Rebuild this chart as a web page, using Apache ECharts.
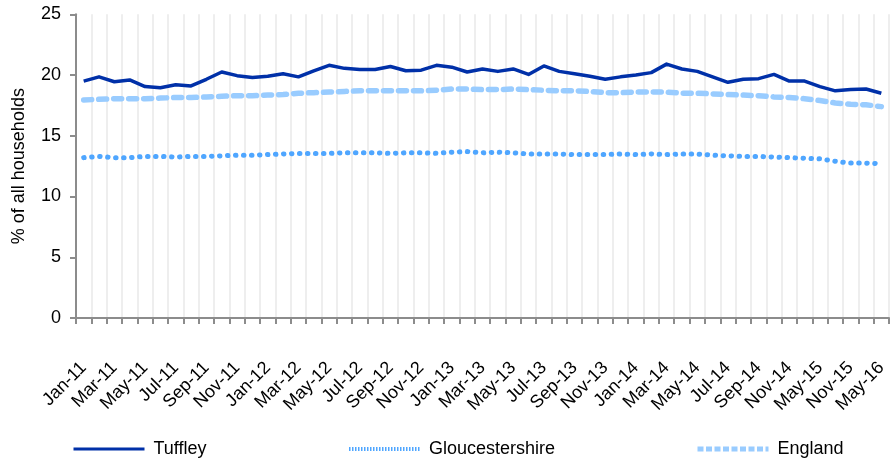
<!DOCTYPE html>
<html>
<head>
<meta charset="utf-8">
<script src="https://cdn.jsdelivr.net/npm/echarts@6/dist/echarts.min.js"></script>
<style>
html,body{margin:0;padding:0;background:#fff;}
#chart{width:892px;height:461px;}
</style>
</head>
<body>
<div id="chart"></div>
<script>
var categories = [
  'Jan-11','Feb-11','Mar-11','Apr-11','May-11','Jun-11','Jul-11','Aug-11','Sep-11','Oct-11','Nov-11','Dec-11',
  'Jan-12','Feb-12','Mar-12','Apr-12','May-12','Jun-12','Jul-12','Aug-12','Sep-12','Oct-12','Nov-12','Dec-12',
  'Jan-13','Feb-13','Mar-13','Apr-13','May-13','Jun-13','Jul-13','Aug-13','Sep-13','Oct-13','Nov-13','Dec-13',
  'Jan-14','Feb-14','Mar-14','Apr-14','May-14','Jun-14','Jul-14','Aug-14','Sep-14','Oct-14','Nov-14',
  'Feb-15','May-15','Aug-15','Nov-15','Feb-16','May-16'
];
var tuffley = [
  19.5,19.85,19.45,19.6,19.05,18.95,19.2,19.1,19.65,20.25,19.95,19.8,
  19.9,20.1,19.85,20.35,20.8,20.55,20.45,20.45,20.7,20.35,20.4,20.8,
  20.65,20.25,20.5,20.3,20.5,20.05,20.75,20.3,20.1,19.9,19.65,19.85,
  20.0,20.2,20.9,20.5,20.3,19.85,19.4,19.65,19.7,20.05,19.5,
  19.5,19.05,18.7,18.8,18.85,18.5
];
var gloucestershire = [
  13.2,13.3,13.2,13.2,13.3,13.3,13.25,13.3,13.3,13.35,13.4,13.4,
  13.45,13.5,13.55,13.55,13.55,13.6,13.6,13.6,13.55,13.6,13.6,13.55,
  13.65,13.7,13.6,13.65,13.6,13.5,13.5,13.5,13.45,13.45,13.45,13.5,
  13.45,13.5,13.45,13.5,13.5,13.4,13.35,13.3,13.3,13.25,13.2,
  13.15,13.1,12.9,12.75,12.75,12.7
];
var england = [
  17.95,18.0,18.05,18.05,18.05,18.1,18.15,18.15,18.2,18.25,18.3,18.3,
  18.35,18.4,18.5,18.55,18.6,18.65,18.7,18.7,18.7,18.7,18.7,18.75,
  18.85,18.85,18.8,18.8,18.85,18.8,18.75,18.7,18.7,18.65,18.55,18.55,
  18.6,18.6,18.6,18.5,18.5,18.45,18.4,18.35,18.3,18.2,18.15,
  18.05,17.9,17.7,17.6,17.55,17.4
];
var yTicks = [0, 5, 10, 15, 20, 25];

var FONT = "'Liberation Sans', Arial, sans-serif";
var chart = echarts.init(document.getElementById('chart'), null, {renderer: 'canvas'});

function legendFor(name, left, lineStyle) {
  return {
    data: [name],
    left: left,
    top: 440,
    padding: 0,
    itemWidth: 71,
    itemHeight: 18,
    selectedMode: false,
    itemStyle: {color: 'rgba(0,0,0,0)', borderWidth: 0, opacity: 0},
    lineStyle: lineStyle,
    textStyle: {fontFamily: FONT, fontSize: 18, color: '#000', padding: [0, 0, 0, 4]}
  };
}

chart.setOption({
  animation: false,
  textStyle: {fontFamily: FONT},
  grid: {left: 76, right: 3, top: 14.3, bottom: 143, containLabel: false},
  legend: [
    legendFor('Tuffley', 72, {width: 3, type: 'solid', cap: 'butt'}),
    legendFor('Gloucestershire', 347, {width: 4, type: [1.5, 1.5], cap: 'butt'}),
    legendFor('England', 695, {width: 5, type: [6, 2.5], cap: 'butt'})
  ],
  xAxis: {
    type: 'category',
    data: categories,
    boundaryGap: true,
    axisLine: {lineStyle: {color: '#8c8c8c', width: 2}},
    axisTick: {show: true, interval: 0, length: 6, lineStyle: {color: '#8c8c8c', width: 2}},
    splitLine: {show: true, interval: 0, lineStyle: {color: '#eeeeee', width: 2}},
    axisLabel: {interval: 1, rotate: 45, margin: 47, fontSize: 18, color: '#000', fontFamily: FONT}
  },
  yAxis: {
    type: 'value',
    min: 0,
    max: yTicks[yTicks.length - 1],
    interval: yTicks[1] - yTicks[0],
    name: '% of all households',
    nameLocation: 'middle',
    nameGap: 48,
    nameTextStyle: {fontSize: 18, color: '#000', fontFamily: FONT},
    axisLine: {show: true, lineStyle: {color: '#8c8c8c', width: 2}},
    axisTick: {show: true, length: 6, lineStyle: {color: '#8c8c8c', width: 2}},
    splitLine: {show: false},
    axisLabel: {margin: 15, fontSize: 18, color: '#000', fontFamily: FONT}
  },
  series: [
    {
      name: 'Tuffley', type: 'line', data: tuffley, symbol: 'none',
      lineStyle: {color: '#0030a8', width: 3.5, join: 'round'},
      itemStyle: {color: '#0030a8'}, z: 4
    },
    {
      name: 'Gloucestershire', type: 'line', data: gloucestershire, symbol: 'none',
      lineStyle: {color: '#4fa6ff', width: 5, type: [0.5, 7.5], cap: 'round'},
      itemStyle: {color: '#4fa6ff'}, z: 3
    },
    {
      name: 'England', type: 'line', data: england, symbol: 'none',
      lineStyle: {color: '#99ccff', width: 5.5, type: [8, 7], cap: 'round'},
      itemStyle: {color: '#99ccff'}, z: 2
    }
  ]
});
</script>
</body>
</html>
